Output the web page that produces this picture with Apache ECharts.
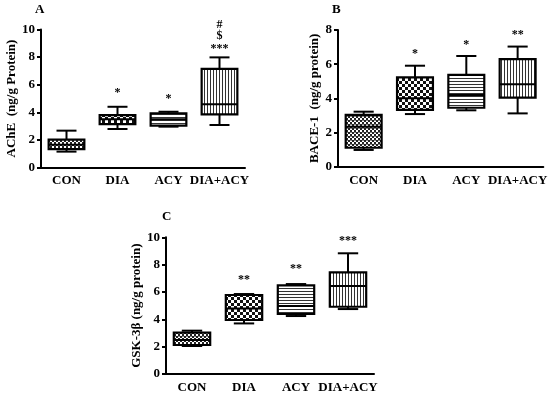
<!DOCTYPE html>
<html><head><meta charset="utf-8">
<script src="https://cdn.jsdelivr.net/npm/echarts@6/dist/echarts.min.js"></script>
<style>html,body{margin:0;padding:0;background:#fff}#c{width:550px;height:396px}</style>
</head><body><div id="c"></div>
<script>
// ---- data ----
const categories = ['CON', 'DIA', 'ACY', 'DIA+ACY'];
// [min, Q1, median, Q3, max]
const acheBoxes = [
  [1.15, 1.33, 1.65, 2.03, 2.67],
  [2.79, 3.15, 3.5, 3.8, 4.4],
  [2.96, 3.03, 3.5, 3.93, 4.04],
  [3.08, 3.85, 4.58, 7.14, 7.98]
];
const bace1Boxes = [
  [0.98, 1.11, 2.34, 3.03, 3.22],
  [3.08, 3.32, 4.0, 5.23, 5.91],
  [3.3, 3.45, 4.2, 5.37, 6.48],
  [3.12, 4.04, 4.82, 6.29, 7.03]
];
const gsk3bBoxes = [
  [2.05, 2.12, 2.49, 3.02, 3.17],
  [3.7, 3.95, 4.8, 5.78, 5.85],
  [4.24, 4.39, 4.97, 6.49, 6.58],
  [4.75, 4.92, 6.44, 7.44, 8.83]
];
// significance marks: [category index, value position, text]
const acheMarks = [[1, 5.4, '*'], [2, 5.0, '*'], [3, 8.6, '***'], [3, 9.55, '$'], [3, 10.35, '#']];
const bace1Marks = [[1, 6.6, '*'], [2, 7.15, '*'], [3, 7.7, '**']];
const gsk3bMarks = [[1, 6.9, '**'], [2, 7.7, '**'], [3, 9.7, '***']];
const acheTicks = [0, 10, 2];
const bace1Ticks = [0, 8, 2];
const gsk3bTicks = [0, 10, 2];

// ---- patterns ----
function makePattern(kind) {
  const c = document.createElement('canvas');
  const ctx = c.getContext('2d');
  if (kind === 0) { // fine checker
    c.width = 4; c.height = 4;
    ctx.fillStyle = '#fff'; ctx.fillRect(0, 0, 4, 4);
    ctx.fillStyle = '#222';
    ctx.fillRect(0, 0, 2, 2); ctx.fillRect(2, 2, 2, 2);
    ctx.fillStyle = '#888'; ctx.fillRect(2, 0, 2, 1);
  } else if (kind === 1) { // bigger checker
    c.width = 6; c.height = 6;
    ctx.fillStyle = '#fff'; ctx.fillRect(0, 0, 6, 6);
    ctx.fillStyle = '#111';
    ctx.fillRect(0, 0, 3, 3); ctx.fillRect(3, 3, 3, 3);
  } else if (kind === 2) { // horizontal lines
    c.width = 3; c.height = 3;
    ctx.fillStyle = '#fff'; ctx.fillRect(0, 0, 3, 3);
    ctx.fillStyle = '#333'; ctx.fillRect(0, 0, 3, 1);
  } else { // vertical lines
    c.width = 3; c.height = 3;
    ctx.fillStyle = '#fff'; ctx.fillRect(0, 0, 3, 3);
    ctx.fillStyle = '#333'; ctx.fillRect(0, 0, 1, 3);
  }
  return { image: c, repeat: 'repeat' };
}
const patterns = [0, 1, 2, 3].map(makePattern);

const FONT = '"Liberation Serif", "Times New Roman", serif';

function boxSeries(gi, boxes) {
  return {
    type: 'custom', xAxisIndex: gi, yAxisIndex: gi,
    data: boxes.map((b, i) => [i].concat(b)),
    encode: { x: 0, y: [1, 2, 3, 4, 5] },
    renderItem: function (params, api) {
      const i = api.value(0);
      const x = api.coord([i, 0])[0];
      const bw = api.size([1, 0])[0] * 0.7;
      const h = bw / 2;
      const cap = bw * 0.28;
      const yMin = api.coord([i, api.value(1)])[1];
      const yQ1 = api.coord([i, api.value(2)])[1];
      const yMd = api.coord([i, api.value(3)])[1];
      const yQ3 = api.coord([i, api.value(4)])[1];
      const yMax = api.coord([i, api.value(5)])[1];
      const ls = { stroke: '#000', lineWidth: 2 };
      return {
        type: 'group',
        children: [
          { type: 'line', shape: { x1: x, y1: yMax, x2: x, y2: yQ3 }, style: ls },
          { type: 'line', shape: { x1: x, y1: yQ1, x2: x, y2: yMin }, style: ls },
          { type: 'line', shape: { x1: x - cap, y1: yMax, x2: x + cap, y2: yMax }, style: ls },
          { type: 'line', shape: { x1: x - cap, y1: yMin, x2: x + cap, y2: yMin }, style: ls },
          { type: 'rect', shape: { x: x - h, y: yQ3, width: bw, height: yQ1 - yQ3 },
            style: { fill: patterns[i], stroke: '#000', lineWidth: 2.2 } },
          { type: 'line', shape: { x1: x - h, y1: yMd, x2: x + h, y2: yMd }, style: ls }
        ]
      };
    }
  };
}
function markSeries(gi, marks) {
  return {
    type: 'custom', xAxisIndex: gi, yAxisIndex: gi,
    data: marks.map(m => [m[0], m[1]]),
    renderItem: function (params, api) {
      const p = api.coord([api.value(0), api.value(1)]);
      return { type: 'text', x: p[0], y: p[1],
        style: { text: marks[params.dataIndex][2], fill: '#000', font: 'bold 12px ' + FONT,
          align: 'center', verticalAlign: 'middle' } };
    }
  };
}
function xAx(gi) {
  return { gridIndex: gi, type: 'category', data: categories, boundaryGap: true,
    axisLine: { lineStyle: { color: '#000', width: 2 } }, axisTick: { show: false },
    axisLabel: { color: '#000', fontFamily: FONT, fontWeight: 'bold', fontSize: 13, margin: 7, interval: 0 } };
}
function yAx(gi, t, name, gap) {
  return { gridIndex: gi, type: 'value', min: t[0], max: t[1], interval: t[2],
    name: name, nameLocation: 'middle', nameGap: gap, nameRotate: 90,
    nameTextStyle: { color: '#000', fontFamily: FONT, fontWeight: 'bold', fontSize: 13 },
    splitLine: { show: false },
    axisLine: { show: true, lineStyle: { color: '#000', width: 2 } },
    axisTick: { show: true, length: 4, lineStyle: { color: '#000', width: 2 } },
    axisLabel: { color: '#000', fontFamily: FONT, fontWeight: 'bold', fontSize: 13, margin: 6 } };
}

const chart = echarts.init(document.getElementById('c'), null, { renderer: 'canvas' });
chart.setOption({
  animation: false,
  grid: [
    { left: 41, top: 29.5, width: 204, height: 138 },
    { left: 338, top: 30, width: 208, height: 136.7 },
    { left: 166, top: 237.3, width: 208, height: 136.7 }
  ],
  xAxis: [xAx(0), xAx(1), xAx(2)],
  yAxis: [
    yAx(0, acheTicks, 'AChE  (ng/g Protein)', 22),
    yAx(1, bace1Ticks, 'BACE-1  (ng/g protein)', 17),
    yAx(2, gsk3bTicks, 'GSK-3β (ng/g protein)', 20)
  ],
  series: [
    boxSeries(0, acheBoxes), boxSeries(1, bace1Boxes), boxSeries(2, gsk3bBoxes),
    markSeries(0, acheMarks), markSeries(1, bace1Marks), markSeries(2, gsk3bMarks)
  ],
  graphic: [
    { type: 'text', left: 35, top: 3, style: { text: 'A', font: 'bold 13px ' + FONT, fill: '#000' } },
    { type: 'text', left: 332, top: 3, style: { text: 'B', font: 'bold 13px ' + FONT, fill: '#000' } },
    { type: 'text', left: 162, top: 210, style: { text: 'C', font: 'bold 13px ' + FONT, fill: '#000' } }
  ]
});
</script></body></html>
